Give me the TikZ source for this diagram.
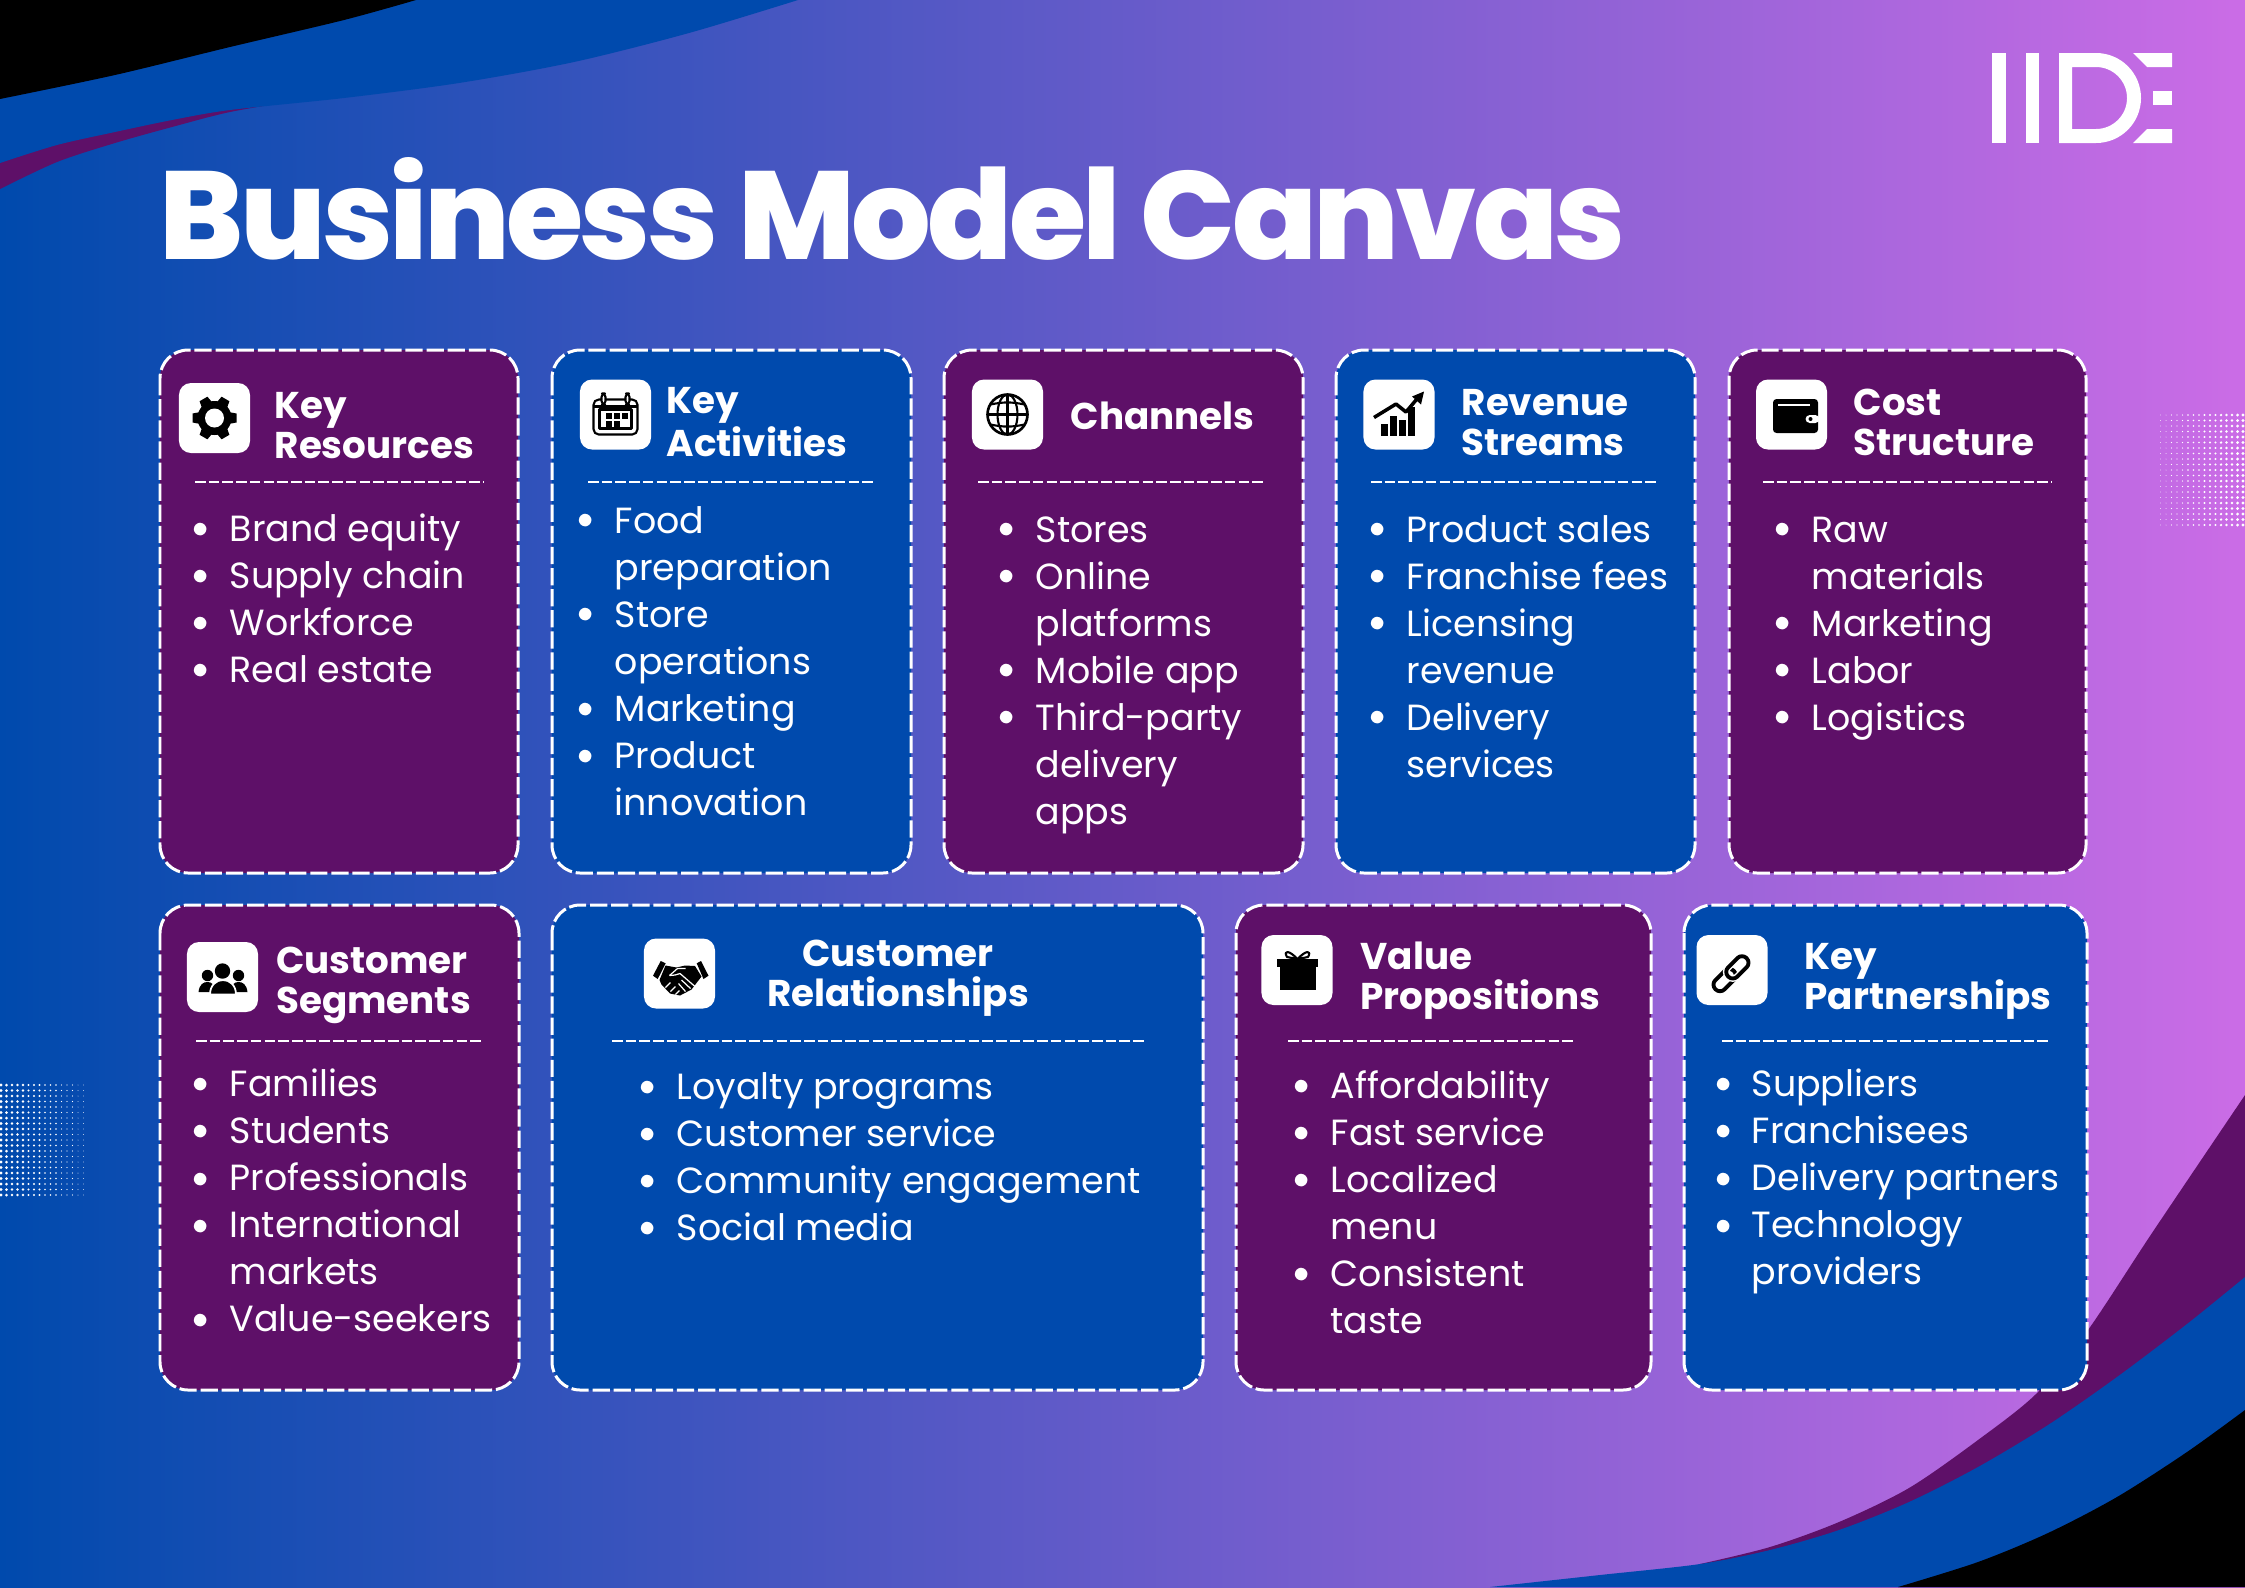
\documentclass[tikz,border=0pt]{standalone}
\usepackage{fontspec}
\setmainfont{Poppins}
\newfontfamily\titlefont[LetterSpace=-3]{Poppins ExtraBold}
\definecolor{bmcblue}{HTML}{004AAD}
\definecolor{bmcpink}{HTML}{CB6CE6}
\definecolor{bmcplum}{HTML}{5E1068}
\newcommand{\itemdot}{\strut\raisebox{0.93pt}{$\bullet$}}
\tikzset{
  cardplum/.style={fill=bmcplum,draw=white,line width=0.85pt,dash pattern=on 4.9pt off 1.1pt,rounded corners=8pt},
  cardblue/.style={fill=bmcblue,draw=white,line width=0.85pt,dash pattern=on 4.9pt off 1.1pt,rounded corners=8pt},
  divider/.style={draw=white,line width=0.7pt,dash pattern=on 3pt off 0.9pt},
  iconbox/.style={fill=white,rounded corners=3.4pt,minimum width=20.2pt,minimum height=19.9pt,inner sep=0pt},
  headline/.style={anchor=north west,inner sep=0pt,align=left,text=white,font=\fontsize{10.6}{11.38}\selectfont\bfseries},
  headlinec/.style={headline,anchor=north,align=center},
  itemlist/.style={anchor=north west,inner sep=0pt,align=left,text=white,font=\fontsize{10.35}{13.37}\selectfont},
  bulletlist/.style={anchor=north,inner sep=0pt,align=center,text=white,font=\fontsize{8.8}{13.37}\selectfont},
  iconline/.style={draw=black,line width=0.6pt,fill=none}
}
\begin{document}
\begin{tikzpicture}[line cap=butt,line join=round,x=0.01cm,y=-0.01cm]
\clip (0,0) rectangle (2245,1587);
\shade [left color=bmcblue,right color=bmcpink] (0,0) rectangle (2245,1587);
\fill [bmcplum] (0,100) -- plot[smooth] coordinates {(0,189) (57,162) (115,143) (172,127) (230,112) (300,100)} -- cycle;
\fill [bmcblue] (0,0) -- plot[smooth] coordinates {(798,0) (689,33) (574,62) (459,83) (344,98) (230,110) (172,120) (115,132) (57,145) (0,163)} -- cycle;
\fill [black] (0,0) -- plot[smooth] coordinates {(416,0) (344,20) (230,47) (115,75) (0,99)} -- cycle;
\fill [bmcplum] (2245,1587) -- (1700,1587) -- plot[smooth] coordinates {(1700,1564) (1770,1547) (1839,1522) (1909,1488) (1978,1440) (2037,1393) (2088,1330) (2152,1233) (2245,1095)} -- cycle;
\fill [bmcblue] (2245,1587) -- (1490,1587) -- plot[smooth] coordinates {(1490,1587) (1600,1575) (1700,1564) (1770,1550) (1839,1530) (1909,1502) (1978,1467) (2048,1425) (2117,1377) (2187,1324) (2245,1277)} -- cycle;
\fill [black] (2245,1587) -- plot[smooth] coordinates {(1898,1587) (1978,1562) (2048,1533) (2117,1497) (2187,1452) (2245,1410)} -- cycle;
\foreach \i in {0,...,15} {
  \pgfmathsetmacro{\dotr}{1.6-0.08*\i}
  \foreach \j in {0,...,20} {
    \fill [white] (1+5.5*\i,1085+5.5*\j) circle [radius=\dotr];
    \fill [white] (2243-5.5*\i,415+5.5*\j) circle [radius=\dotr];
  }
}
\fill [white] (1992,53) rectangle (2006,143);
\fill [white] (2026,53) rectangle (2039,143);
\fill [white,even odd rule] (2059,53) -- (2096,53) arc [start angle=-90,end angle=90,radius=45] -- (2059,143) -- cycle (2072,67) -- (2096,67) arc [start angle=-90,end angle=90,radius=31] -- (2072,129) -- cycle;
\fill [white] (2133,53) -- (2172,53) -- (2172,67) -- (2147,67) -- cycle;
\fill [white] (2153,91) rectangle (2172,105);
\fill [white] (2133,143) -- (2172,143) -- (2172,129) -- (2147,129) -- cycle;
\node [anchor=base west,inner sep=0pt,text=white,font=\fontsize{35.6}{40}\selectfont\titlefont] (title) at (159,259) {Business Model Canvas};
\draw [cardplum] (160,350) rectangle (518,873);
\draw [cardblue] (552,350) rectangle (911,873);
\draw [cardplum] (944,350) rectangle (1303,873);
\draw [cardblue] (1336,350) rectangle (1695,873);
\draw [cardplum] (1729,350) rectangle (2086,873);
\draw [cardplum] (160,905) rectangle (519,1390);
\draw [cardblue] (552,905) rectangle (1203,1390);
\draw [cardplum] (1236,905) rectangle (1651,1390);
\draw [cardblue] (1684,905) rectangle (2087,1390);
\draw [divider] (195,482) -- (484,482);
\draw [divider] (588,482) -- (875,482);
\draw [divider] (978,482) -- (1266,482);
\draw [divider] (1371,482) -- (1659,482);
\draw [divider] (1763,482) -- (2052,482);
\draw [divider] (196,1041) -- (483,1041);
\draw [divider] (612,1041) -- (1144,1041);
\draw [divider] (1288,1041) -- (1576,1041);
\draw [divider] (1722,1041) -- (2048,1041);
\node [iconbox] (iconresources) at (214.5,418) {};
\node [iconbox] (iconactivities) at (615.5,414.5) {};
\node [iconbox] (iconchannels) at (1007.5,414.5) {};
\node [iconbox] (iconrevenue) at (1399,414.5) {};
\node [iconbox] (iconcost) at (1791.5,414.5) {};
\node [iconbox] (iconsegments) at (222.5,977) {};
\node [iconbox] (iconrelations) at (679.5,973.5) {};
\node [iconbox] (iconvalue) at (1297,970) {};
\node [iconbox] (iconpartners) at (1732,970) {};
\begin{scope}[shift={(iconresources)}]
\foreach \a in {30,90,150,210,270,330}
  \fill [black,rotate=\a] (-6,14) -- (6,14) -- (4.5,22) -- (-4.5,22) -- cycle;
\fill [black] (0,0) circle [radius=17];
\fill [white] (0,0) circle [radius=9.5];
\end{scope}
\begin{scope}[shift={(iconactivities)}]
\draw [iconline,rounded corners=1.5pt] (-22,-15) rectangle (22,20);
\draw [iconline] (-16,-5) rectangle (16,14);
\draw [iconline] (-22,-8) -- (22,-8);
\draw [iconline,fill=white,rounded corners=1pt] (-14,-21) rectangle (-10,-10);
\draw [iconline,fill=white,rounded corners=1pt] (10,-21) rectangle (14,-10);
\foreach \cx in {-10,-2,6} \fill [black] (\cx,-2) rectangle +(6,6);
\foreach \cx in {-10,-2} \fill [black] (\cx,6) rectangle +(6,6);
\end{scope}
\begin{scope}[shift={(iconchannels)}]
\draw [iconline,line width=0.75pt] (0,0) circle [radius=20];
\draw [iconline] (0,0) ellipse [x radius=10,y radius=20];
\draw [iconline] (0,-20) -- (0,20);
\draw [iconline] (-20,0) -- (20,0);
\draw [iconline] (-17,-10) to [bend left=12] (17,-10);
\draw [iconline] (-17,10) to [bend right=12] (17,10);
\end{scope}
\begin{scope}[shift={(iconrevenue)}]
\fill [black] (-18,9) rectangle (-11,21.5);
\fill [black] (-9,1) rectangle (-2,21.5);
\fill [black] (0,5) rectangle (7,21.5);
\fill [black] (9,-8) rectangle (16,21.5);
\draw [black,line width=1pt] (-25,3) -- (-3,-10.5) -- (7,-2.5) -- (20,-18);
\fill [black] (25,-23) -- (22,-10) -- (13,-18) -- cycle;
\end{scope}
\begin{scope}[shift={(iconcost)}]
\fill [black,rounded corners=1pt] (-18.5,-15.5) rectangle (26.5,18.5);
\fill [white] (-14,-11) rectangle (18,-9);
\fill [white,rounded corners=1.2pt] (14,0.5) rectangle (28,8.5);
\fill [black] (19,4.5) circle [radius=2];
\end{scope}
\begin{scope}[shift={(iconsegments)}]
\fill [black] (-15,-1.5) circle [radius=5.7];
\fill [black] (16,-1.5) circle [radius=5.7];
\fill [black] (0,-6) circle [radius=7.7];
\fill [black] (-24,15) .. controls (-23,7) and (-19,5) .. (-15,5) .. controls (-11,5) and (-8,7) .. (-7,15) -- cycle;
\fill [black] (25,15) .. controls (24,7) and (20,5) .. (16,5) .. controls (12,5) and (9,7) .. (8,15) -- cycle;
\draw [white,fill=black,line width=0.5pt] (-12.5,17.5) .. controls (-12.5,8) and (-6,3) .. (0.5,3) .. controls (7,3) and (13.5,8) .. (13.5,17.5) -- cycle;
\end{scope}
\begin{scope}[shift={(iconrelations)}]
\fill [black] (-18.8,-12.5) -- (-13.8,-10.2) -- (-21.8,5.5) -- (-26.5,2.2) -- cycle;
\fill [black] (17.2,-10.2) -- (21.5,-12.5) -- (29,2.2) -- (24,5.5) -- cycle;
\fill [black] (-14,-8) -- (-3,-6) -- (5.5,-8) -- (15.5,-7.5) -- (22,3) -- (12,16) -- (0.5,22) -- (-9.5,20) -- (-18,11) -- (-20,6.5) -- cycle;
\draw [white,line width=0.35pt] (-10,2) -- (-2,-5) -- (6,-5);
\draw [white,line width=0.35pt] (-10,2) -- (-4.5,1.5) -- (0.5,0) -- (15.5,13);
\draw [white,line width=0.35pt] (2,6.5) -- (11,15);
\draw [white,line width=0.35pt] (-1,10) -- (6,18);
\draw [white,line width=0.35pt] (-14,14) -- (-9,9);
\draw [white,line width=0.35pt] (-9,18) -- (-4,13);
\draw [white,line width=0.35pt] (-4,21) -- (0,17);
\end{scope}
\begin{scope}[shift={(iconvalue)}]
\fill [black] (-20,-11) rectangle (21,-3);
\fill [black] (-17,-3) rectangle (19,20);
\draw [iconline,line width=0.6pt] (0.5,-11) .. controls (-8,-20) and (-14,-20) .. (-10,-13) -- (0.5,-11);
\draw [iconline,line width=0.6pt] (0.5,-11) .. controls (9,-20) and (15,-20) .. (11,-13) -- (0.5,-11);
\end{scope}
\begin{scope}[shift={(iconpartners)}]
\begin{scope}[shift={(-1,3.7)},rotate=45]
\draw [iconline,line width=1.1pt,rounded corners=1.8pt] (-22,-6.5) rectangle (4,6.5);
\draw [white,line width=1.9pt,rounded corners=1.8pt] (-4,-6.5) rectangle (22,6.5);
\draw [iconline,line width=1.1pt,rounded corners=1.8pt] (-4,-6.5) rectangle (22,6.5);
\end{scope}
\end{scope}
\node [headline] (headresources) at (274,391.5) {Key\\Resources};
\node [headline] (headactivities) at (666,387) {Key\\[0.6pt]Activities};
\node [headline] (headchannels) at (1070,401) {Channels};
\node [headline] (headrevenue) at (1461,388.5) {Revenue\\Streams};
\node [headline] (headcost) at (1853,388.5) {Cost\\Structure};
\node [headline] (headsegments) at (275.5,946.5) {Customer\\Segments};
\node [headlinec] (headrelations) at (898,939.5) {Customer\\Relationships};
\node [headline] (headvalue) at (1360,941.5) {Value\\Propositions};
\node [headline] (headpartners) at (1804,942.5) {Key\\Partnerships};
\node [itemlist] (listresources) at (229,513) {Brand equity\\Supply chain\\Workforce\\Real estate};
\node [bulletlist] (dotsresources) at (201,507) {\itemdot\\\itemdot\\\itemdot\\\itemdot};
\node [itemlist] (listactivities) at (614,505.4) {Food\\preparation\\Store\\operations\\Marketing\\Product\\innovation};
\node [bulletlist] (dotsactivities) at (586,498.6) {\itemdot\\~\\\itemdot\\~\\\itemdot\\\itemdot\\~};
\node [itemlist] (listchannels) at (1035,516) {Stores\\Online\\platforms\\Mobile app\\Third-party\\delivery\\apps};
\node [bulletlist] (dotschannels) at (1007,507) {\itemdot\\\itemdot\\~\\\itemdot\\\itemdot\\~\\~};
\node [itemlist] (listrevenue) at (1406,514.4) {Product sales\\Franchise fees\\Licensing\\revenue\\Delivery\\services};
\node [bulletlist] (dotsrevenue) at (1378,507) {\itemdot\\\itemdot\\\itemdot\\~\\\itemdot\\~};
\node [itemlist] (listcost) at (1811,516) {Raw\\materials\\Marketing\\Labor\\Logistics};
\node [bulletlist] (dotscost) at (1783,507) {\itemdot\\~\\\itemdot\\\itemdot\\\itemdot};
\node [itemlist] (listsegments) at (229,1068) {Families\\Students\\Professionals\\International\\markets\\Value-seekers};
\node [bulletlist] (dotssegments) at (201,1062.6) {\itemdot\\\itemdot\\\itemdot\\\itemdot\\~\\\itemdot};
\node [itemlist] (listrelations) at (676,1071.4) {Loyalty programs\\Customer service\\Community engagement\\Social media};
\node [bulletlist] (dotsrelations) at (648,1065.5) {\itemdot\\\itemdot\\\itemdot\\\itemdot};
\node [itemlist] (listvalue) at (1330,1070) {Affordability\\Fast service\\Localized\\menu\\Consistent\\taste};
\node [bulletlist] (dotsvalue) at (1302,1064) {\itemdot\\\itemdot\\\itemdot\\~\\\itemdot\\~};
\node [itemlist] (listpartners) at (1751,1068) {Suppliers\\Franchisees\\Delivery partners\\Technology\\providers};
\node [bulletlist] (dotspartners) at (1724,1062.6) {\itemdot\\\itemdot\\\itemdot\\\itemdot\\~};
\end{tikzpicture}
\end{document}
